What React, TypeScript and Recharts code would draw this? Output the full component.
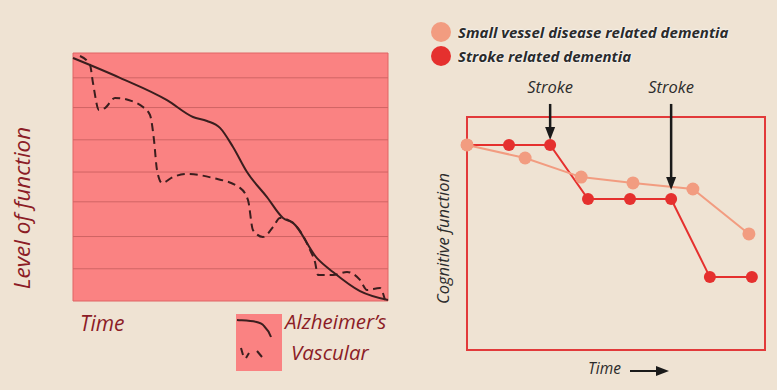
import React from 'react';
import { LineChart, Line, XAxis, YAxis, CartesianGrid, ReferenceArea, ReferenceLine, Label } from 'recharts';

// left panel: level of function over time (x 0..315, y 0..100)
const alzTime = [0, 47, 94, 120, 134, 147, 160, 174, 194, 210, 220, 244, 260, 287, 315];
const alzLevel = [98, 90, 81, 74.2, 72.6, 69.8, 62.1, 52, 41.9, 33.5, 31.5, 17.3, 11.7, 4, 0.4];
const vasTime = [7, 17, 20, 26, 32, 42, 59, 70, 77, 81, 84, 89, 100, 114, 140, 167, 175, 180, 190, 200, 207, 220, 237, 242, 245, 260, 274, 287, 294, 307, 312];
const vasLevel = [98.8, 95.2, 87.9, 77, 77.8, 81.9, 80.6, 78.2, 75, 64.9, 52.8, 47.6, 50, 51.2, 49.6, 45.6, 40.7, 28.6, 25.8, 29.8, 33.5, 31.5, 20.6, 15.7, 10.5, 10.5, 11.7, 8.5, 4.4, 5.2, 0.4];
const levelTicks = [13, 26, 40, 52, 65, 78, 90];

// right panel: cognitive function over time (0..100)
const strokeTime = [0, 14.1, 27.9, 40.6, 54.7, 68.5, 81.5, 95.6];
const strokeScore = [88, 88, 88, 64.8, 64.8, 64.8, 31.3, 31.3];
const svdTime = [0, 19.5, 38.3, 55.7, 75.8, 94.6];
const svdScore = [88, 82.4, 74.2, 71.7, 69.1, 49.8];
const strokeEvents = [
  { t: 27.9, top: 105.6, tip: 90.1 },
  { t: 68.5, top: 105.6, tip: 68.7 },
];

const alzData = alzTime.map((t, i) => ({ t, v: alzLevel[i] }));
const vasData = vasTime.map((t, i) => ({ t, v: vasLevel[i] }));
const strokeData = strokeTime.map((t, i) => ({ t, v: strokeScore[i] }));
const svdData = svdTime.map((t, i) => ({ t, v: svdScore[i] }));

const BG = '#EFE3D3';
const DARKRED = '#8C1C26';
const INK = '#2B2B2B';
const FONT = '"Open Sans", "DejaVu Sans", sans-serif';

const StrokeArrow = (props: any) => {
  const { x1, y1, x2, y2 } = props;
  if (x1 == null) return null;
  return (
    <g>
      <text x={x1} y={y1 - 11} textAnchor="middle" fontFamily={FONT} fontStyle="italic" fontSize={16.5} fill={INK}>
        Stroke
      </text>
      <line x1={x1} y1={y1} x2={x2} y2={y2 - 10} stroke="#1A1A1A" strokeWidth={2.5} />
      <polygon points={`${x2 - 5},${y2 - 13} ${x2 + 5},${y2 - 13} ${x2},${y2}`} fill="#1A1A1A" />
    </g>
  );
};

export default function App() {
  return (
    <div style={{ position: 'absolute', left: 0, top: 0, width: 777, height: 390, background: BG, overflow: 'hidden', fontFamily: FONT }}>
      <div style={{ position: 'absolute', left: 0, top: 0 }}>
        <LineChart width={400} height={390} margin={{ top: 53, right: 12, bottom: 0, left: 0 }}>
          <CartesianGrid vertical={false} horizontal={false} fill="#FA8282" fillOpacity={1} />
          <XAxis type="number" dataKey="t" domain={[0, 315]} tick={false} axisLine={false} tickLine={false} height={89}>
            <Label
              content={(p: any) => (
                <text x={p.viewBox.x + 7} y={p.viewBox.y + 30} fontFamily={FONT} fontStyle="italic" fontSize={21} fill={DARKRED}>
                  Time
                </text>
              )}
            />
          </XAxis>
          <YAxis type="number" domain={[0, 100]} tick={false} axisLine={false} tickLine={false} width={73}>
            <Label
              content={(p: any) => {
                const cx = 21;
                const cy = p.viewBox.y + p.viewBox.height / 2 + 31;
                return (
                  <text x={cx} y={cy} transform={`rotate(-90 ${cx} ${cy})`} textAnchor="middle" dominantBaseline="central" fontFamily={FONT} fontStyle="italic" fontSize={22.5} fill={DARKRED}>
                    Level of function
                  </text>
                );
              }}
            />
          </YAxis>
          {levelTicks.map((v) => (
            <ReferenceLine key={v} y={v} stroke="#D06464" strokeWidth={1} />
          ))}
          <ReferenceArea x1={0} x2={315} y1={0} y2={100} fill="none" fillOpacity={0} stroke="#E06464" strokeWidth={1} />
          <Line data={vasData} dataKey="v" type="monotone" stroke="#3A1E1E" strokeWidth={2} strokeDasharray="8 5" dot={false} isAnimationActive={false} />
          <Line data={alzData} dataKey="v" type="monotone" stroke="#3A1E1E" strokeWidth={2} dot={false} isAnimationActive={false} />
        </LineChart>
      </div>

      {/* left legend */}
      <div style={{ position: 'absolute', left: 236, top: 314 }}>
        <svg width={46} height={57}>
          <rect x={0} y={0} width={46} height={57} fill="#FA8282" />
          <path d="M1,6 C14,7 24,7 28,12 C32,16 34,20 35,23" stroke="#3A1E1E" strokeWidth={2} fill="none" />
          <path d="M5,34 L7,41 M10,44 L13,39 M21,37 L26,43" stroke="#3A1E1E" strokeWidth={2} fill="none" />
        </svg>
      </div>
      <div style={{ position: 'absolute', left: 285, top: 306, fontStyle: 'italic', fontSize: 20.5, color: DARKRED, lineHeight: '31px' }}>
        <div>Alzheimer’s</div>
        <div style={{ marginLeft: 6 }}>Vascular</div>
      </div>

      <div style={{ position: 'absolute', left: 400, top: 0 }}>
        <LineChart width={377} height={390} margin={{ top: 117, right: 12, bottom: 0, left: 0 }}>
          <XAxis type="number" dataKey="t" domain={[0, 100]} tick={false} axisLine={false} tickLine={false} height={40}>
            <Label
              content={(p: any) => {
                const x = p.viewBox.x + 121;
                const y = p.viewBox.y + 24;
                return (
                  <g>
                    <text x={x} y={y} fontFamily={FONT} fontStyle="italic" fontSize={15.5} fill={INK}>
                      Time
                    </text>
                    <line x1={x + 42} y1={y - 3} x2={x + 70} y2={y - 3} stroke="#1A1A1A" strokeWidth={2} />
                    <polygon points={`${x + 68},${y - 8} ${x + 81},${y - 3} ${x + 68},${y + 2}`} fill="#1A1A1A" />
                  </g>
                );
              }}
            />
          </XAxis>
          <YAxis type="number" domain={[0, 100]} tick={false} axisLine={false} tickLine={false} width={67}>
            <Label
              content={(p: any) => {
                const cx = 42;
                const cy = p.viewBox.y + p.viewBox.height / 2 + 5;
                return (
                  <text x={cx} y={cy} transform={`rotate(-90 ${cx} ${cy})`} textAnchor="middle" dominantBaseline="central" fontFamily={FONT} fontStyle="italic" fontSize={16.5} fill={INK}>
                    Cognitive function
                  </text>
                );
              }}
            />
          </YAxis>
          <ReferenceArea x1={0} x2={100} y1={0} y2={100} fill="none" fillOpacity={0} stroke="#E23A3A" strokeWidth={2} />
          <Line data={strokeData} dataKey="v" type="linear" stroke="#E5302E" strokeWidth={2} dot={{ r: 6, fill: '#E5302E', stroke: 'none' }} isAnimationActive={false} />
          <Line data={svdData} dataKey="v" type="linear" stroke="#F29C80" strokeWidth={2} dot={{ r: 6.5, fill: '#F29C80', stroke: 'none' }} isAnimationActive={false} />
          {strokeEvents.map((e, i) => (
            <ReferenceLine
              key={i}
              segment={[{ x: e.t, y: e.top }, { x: e.t, y: e.tip }]}
              ifOverflow="visible"
              shape={StrokeArrow}
            />
          ))}
        </LineChart>
      </div>

      {/* right legend */}
      <div style={{ position: 'absolute', left: 431, top: 20, fontStyle: 'italic', fontWeight: 700, fontSize: 15, color: INK, textShadow: '0 0 2px #fff, 0 0 2px #fff' }}>
        <div style={{ display: 'flex', alignItems: 'center', height: 24 }}>
          <span style={{ width: 20, height: 20, borderRadius: 10, background: '#F29C80', display: 'inline-block', marginRight: 7 }} />
          Small vessel disease related dementia
        </div>
        <div style={{ display: 'flex', alignItems: 'center', height: 24 }}>
          <span style={{ width: 20, height: 20, borderRadius: 10, background: '#E5302E', display: 'inline-block', marginRight: 7 }} />
          Stroke related dementia
        </div>
      </div>
    </div>
  );
}
